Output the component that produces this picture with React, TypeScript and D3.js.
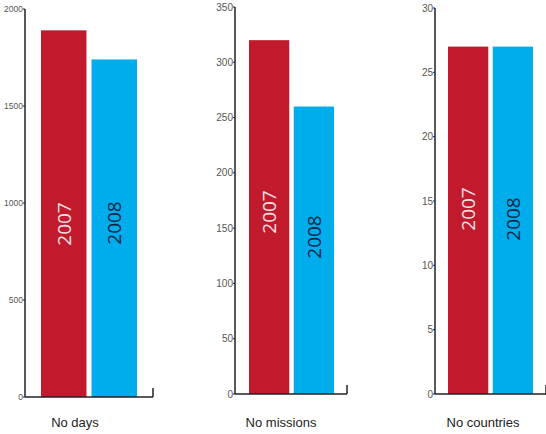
import React from "react";
import * as d3 from "d3";

const categories = ["No days", "No missions", "No countries"];
const years = ["2007", "2008"];
const values2007 = [1890, 320, 27];
const values2008 = [1740, 260, 27];
const axisMax = [2000, 350, 30];
const tickStep = [500, 50, 5];

// layout (styles/positions)
const panels = [
  { axisX: 25, base: 397, top: 9, right: 153, barL: 41, barR: 137, labelX: 75, tickFont: 8.5, yearY: [224, 223] },
  { axisX: 235, base: 394, top: 7, right: 347, barL: 249, barR: 334, labelX: 281, tickFont: 10, yearY: [212, 237] },
  { axisX: 435, base: 394, top: 8, right: 546, barL: 448, barR: 533, labelX: 483, tickFont: 10, yearY: [209, 219] },
];

const RED = "#c01a2c";
const BLUE = "#00adec";

export default function App() {
  return (
    <svg width={546} height={434} style={{ position: "absolute", left: 0, top: 0, background: "#fff" }}>
      {categories.map((cat, i) => {
        const p = panels[i];
        const y = d3.scaleLinear().domain([0, axisMax[i]]).range([p.base, p.top]);
        const x = d3.scaleBand<string>().domain(years).range([p.barL, p.barR]).paddingInner(0.1);
        const vals = [values2007[i], values2008[i]];
        const ticks = d3.range(0, axisMax[i] + 1e-9, tickStep[i]);
        return (
          <g key={cat}>
            {years.map((yr, j) => (
              <rect
                key={yr}
                x={x(yr)}
                y={y(vals[j])}
                width={x.bandwidth()}
                height={p.base - y(vals[j])}
                fill={j === 0 ? RED : BLUE}
              />
            ))}
            {years.map((yr, j) => {
              const cx = (x(yr) as number) + x.bandwidth() / 2;
              const cy = p.yearY[j];
              return (
                <text
                  key={yr + "t"}
                  transform={`translate(${cx},${cy}) rotate(-90)`}
                  textAnchor="middle"
                  dominantBaseline="central"
                  fontFamily="'Open Sans', 'Noto Sans', sans-serif"
                  fontSize={19}
                  fill={j === 0 ? "#fbe3e6" : "#0b2747"}
                >
                  {yr}
                </text>
              );
            })}
            <line x1={p.axisX} x2={p.axisX} y1={p.top} y2={p.base} stroke="#222" strokeWidth={1.5} />
            <line x1={p.axisX} x2={p.right} y1={p.base} y2={p.base} stroke="#222" strokeWidth={1.5} />
            <line x1={p.right} x2={p.right} y1={p.base - 9} y2={p.base} stroke="#222" strokeWidth={1.5} />
            {ticks.map((t) => (
              <g key={t}>
                <line x1={p.axisX - 2} x2={p.axisX} y1={y(t)} y2={y(t)} stroke="#222" strokeWidth={1} />
                <text
                  x={p.axisX - 2}
                  y={y(t)}
                  textAnchor="end"
                  dominantBaseline="central"
                  fontFamily="'Liberation Sans', Arial, sans-serif"
                  fontSize={p.tickFont}
                  fill="#555"
                >
                  {t}
                </text>
              </g>
            ))}
            <text
              x={p.labelX}
              y={427}
              textAnchor="middle"
              fontFamily="'Liberation Sans', Arial, sans-serif"
              fontSize={13}
              fill="#222"
            >
              {cat}
            </text>
          </g>
        );
      })}
    </svg>
  );
}
